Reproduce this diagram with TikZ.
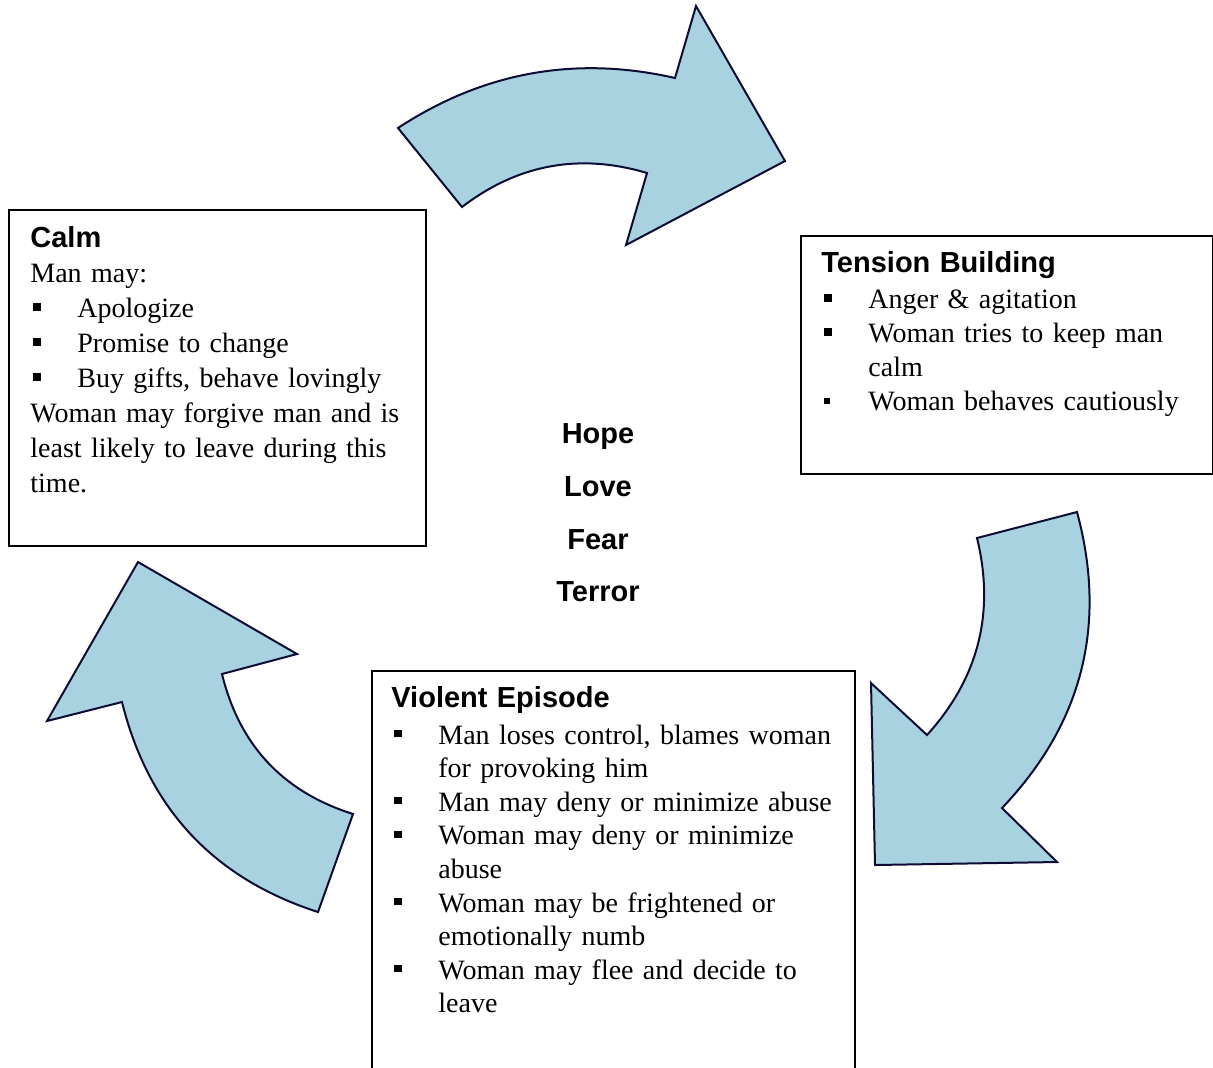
\documentclass[tikz,border=0pt]{standalone}
\usepackage{fontspec}
\setmainfont{Liberation Serif}
\setsansfont{Liberation Sans}
\usepackage{xcolor}
\usepackage{tikz}
\usetikzlibrary{positioning}
\definecolor{arrowfill}{RGB}{168,210,223}
\definecolor{arrowedge}{RGB}{12,12,52}
\newcommand{\sqb}[1][3.6pt]{\makebox[23.5pt][l]{\hspace{1.5pt}\raisebox{3.4pt}{\rule{#1}{#1}}}}
\newcommand{\cont}{\hspace*{23.5pt}}
\newcommand{\hd}[1]{{\sffamily\bfseries\fontsize{14.5}{17}\selectfont #1}}

\begin{document}
\begin{tikzpicture}[x=0.5pt,y=-0.5pt,
  panel/.style={draw,line width=1pt,anchor=north west,inner sep=0pt},
  cyclearrow/.style={draw=arrowedge,fill=arrowfill,line width=1pt,line join=miter},
  txt/.style={inner sep=0pt,align=left,text width=240pt}]
  \clip (0,0) rectangle (1213,1067);

  \draw[cyclearrow] (398,128) .. controls (483.3,72) and (575.7,55.3) .. (675,78)
    -- (696,6) -- (785,161) -- (626,245) -- (647,173)
    .. controls (579.5,152.9) and (517.9,164.2) .. (462,207) -- cycle;
  \draw[cyclearrow] (1077,512) .. controls (1107.5,624.8) and (1082.5,723.5) .. (1002,808)
    -- (1057,862) -- (875,865) -- (871,683) -- (927,735)
    .. controls (978.5,678.2) and (995.2,612.5) .. (977,538) -- cycle;
  \draw[cyclearrow] (318,912) .. controls (213.7,878.4) and (148.3,808.4) .. (122,702)
    -- (47,721) -- (138,562) -- (297,654) -- (222,674)
    .. controls (239.4,745.3) and (283.1,791.9) .. (353,814) -- cycle;

  \node[panel,minimum width=208.5pt,minimum height=168pt] (calm) at (8,209) {};
  \node[panel,minimum width=206pt,minimum height=119pt] (tension) at (800,235) {};
  \node[panel,minimum width=241.5pt,minimum height=215pt] (violent) at (371,670) {};

  \node[txt,font=\fontsize{14}{17.5}\selectfont,below right=8.5pt and 11pt of calm.north west] (calmtxt)
    {\hd{Calm}\\
     Man may:\\
     \sqb Apologize\\
     \sqb Promise to change\\
     \sqb Buy gifts, behave lovingly\\
     Woman may forgive man and is\\
     least likely to leave during this\\
     time.};
  \node[txt,font=\fontsize{14}{17}\selectfont,below right=8pt and 10.5pt of tension.north west] (tensiontxt)
    {\hd{Tension Building}\\[1pt]
     \sqb Anger \& agitation\\
     \sqb Woman tries to keep man\\
     \cont calm\\
     \sqb[2.8pt]Woman behaves cautiously};
  \node[txt,font=\fontsize{14}{16.8}\selectfont,below right=8pt and 10pt of violent.north west] (violenttxt)
    {\hd{Violent Episode}\\[1.5pt]
     \sqb Man loses control, blames woman\\
     \cont for provoking him\\
     \sqb Man may deny or minimize abuse\\
     \sqb Woman may deny or minimize\\
     \cont abuse\\
     \sqb Woman may be frightened or\\
     \cont emotionally numb\\
     \sqb Woman may flee and decide to\\
     \cont leave};

  \node[inner sep=0pt,align=center,text width=80pt,font=\sffamily\bfseries\fontsize{14.5}{26.3}\selectfont]
    (moods) at (598,513) {Hope\\Love\\Fear\\Terror};
\end{tikzpicture}
\end{document}
